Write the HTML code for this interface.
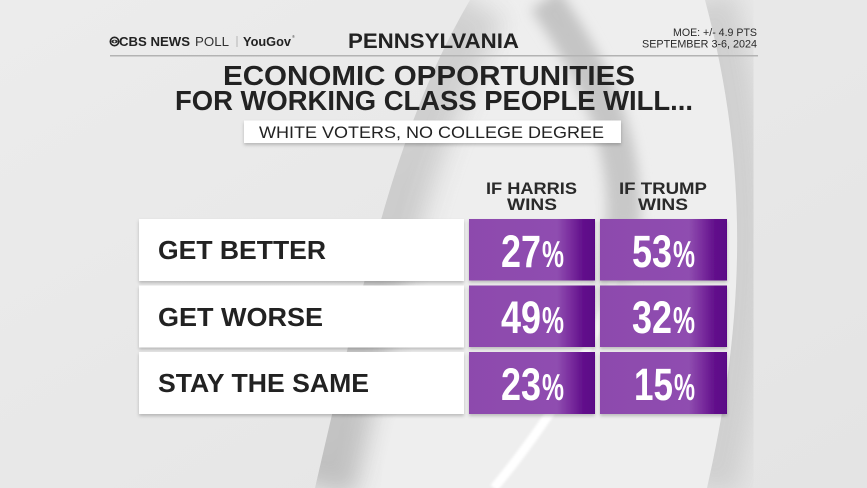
<!DOCTYPE html>
<html>
<head>
<meta charset="utf-8">
<style>
  html, body { margin: 0; padding: 0; background: #e7e7e7; }
  body { width: 867px; height: 488px; overflow: hidden; }
  svg { display: block; }
  text { font-family: "Liberation Sans", Arial, sans-serif; }
  .b { font-weight: bold; }
</style>
</head>
<body>
<svg width="867" height="488" viewBox="0 0 867 488" xmlns="http://www.w3.org/2000/svg">
  <defs>
    <linearGradient id="bg" x1="0" y1="0" x2="1" y2="1">
      <stop offset="0" stop-color="#ececec"/>
      <stop offset="1" stop-color="#e4e4e4"/>
    </linearGradient>
    <linearGradient id="purp" x1="0" y1="0" x2="1" y2="0">
      <stop offset="0" stop-color="#8d4aad"/>
      <stop offset="0.70" stop-color="#8f4db0"/>
      <stop offset="0.80" stop-color="#7b2f9f"/>
      <stop offset="0.90" stop-color="#63118c"/>
      <stop offset="1" stop-color="#5a0686"/>
    </linearGradient>
    <linearGradient id="darkfade" gradientUnits="userSpaceOnUse" x1="0" y1="0" x2="0" y2="488">
      <stop offset="0" stop-color="#c4c4c4" stop-opacity="1"/>
      <stop offset="0.45" stop-color="#c4c4c4" stop-opacity="0.9"/>
      <stop offset="0.65" stop-color="#c4c4c4" stop-opacity="0"/>
    </linearGradient>
    <linearGradient id="whitefade" gradientUnits="userSpaceOnUse" x1="0" y1="0" x2="0" y2="488">
      <stop offset="0.55" stop-color="#ffffff" stop-opacity="0"/>
      <stop offset="0.72" stop-color="#ffffff" stop-opacity="1"/>
      <stop offset="1" stop-color="#ffffff" stop-opacity="1"/>
    </linearGradient>
    <linearGradient id="leftshade" gradientUnits="userSpaceOnUse" x1="0" y1="0" x2="0" y2="488">
      <stop offset="0" stop-color="#d0d0d0"/>
      <stop offset="0.5" stop-color="#cacaca"/>
      <stop offset="1" stop-color="#bdbdbd"/>
    </linearGradient>
    <filter id="blur12" x="-50%" y="-50%" width="200%" height="200%">
      <feGaussianBlur stdDeviation="12"/>
    </filter>
    <filter id="blur6" x="-50%" y="-50%" width="200%" height="200%">
      <feGaussianBlur stdDeviation="6"/>
    </filter>
    <filter id="blur1" x="-50%" y="-50%" width="200%" height="200%">
      <feGaussianBlur stdDeviation="1.2"/>
    </filter>
    <filter id="sh" x="-5%" y="-15%" width="110%" height="140%">
      <feDropShadow dx="0" dy="2" stdDeviation="1.5" flood-color="#000" flood-opacity="0.22"/>
    </filter>
    <clipPath id="cres">
      <path d="M470,0 C400,120 370,250 315,488 L707,488 C750,300 745,150 705,0 Z"/>
    </clipPath>
    <clipPath id="rightR">
      <path d="M705,0 C745,150 750,300 707,488 L867,488 L867,0 Z"/>
    </clipPath>
  </defs>

  <!-- Background -->
  <rect x="0" y="0" width="867" height="488" fill="url(#bg)"/>
  <path d="M470,0 C400,120 370,250 315,488 L707,488 C750,300 745,150 705,0 Z" fill="#eeeeee"/>
  <g clip-path="url(#cres)">
    <path d="M470,0 C400,120 370,250 315,488" fill="none" stroke="url(#leftshade)" stroke-width="80" filter="url(#blur12)" opacity="0.95"/>
  </g>
  <g clip-path="url(#rightR)">
    <path d="M705,0 C745,150 750,300 707,488" fill="none" stroke="#cdcdcd" stroke-width="60" filter="url(#blur12)" opacity="0.9"/>
  </g>
  <path d="M545,0 C650,150 665,280 494,488" fill="none" stroke="url(#darkfade)" stroke-width="34" filter="url(#blur6)"/>
  <path d="M545,0 C650,150 665,280 494,488" fill="none" stroke="url(#whitefade)" stroke-width="9" filter="url(#blur1)"/>

  <!-- Header -->
  <circle cx="114.5" cy="41.5" r="4.2" fill="none" stroke="#222" stroke-width="1.6"/>
  <ellipse cx="114.5" cy="41.5" rx="3.2" ry="1.8" fill="#222"/>
  <circle cx="114.5" cy="41.5" r="1.1" fill="#eee"/>
  <text x="119" y="46" class="b" font-size="13" fill="#222" textLength="71" lengthAdjust="spacingAndGlyphs">CBS NEWS</text>
  <text x="195" y="46" font-size="13" fill="#333" textLength="34" lengthAdjust="spacingAndGlyphs">POLL</text>
  <rect x="236.5" y="36" width="1" height="11" fill="#b5b5b5"/>
  <text x="243" y="46" class="b" font-size="13" fill="#222" textLength="48" lengthAdjust="spacingAndGlyphs">YouGov</text>
  <text x="292" y="38" font-size="4" fill="#444">®</text>

  <text x="348" y="48" class="b" font-size="21" fill="#222" textLength="171" lengthAdjust="spacingAndGlyphs">PENNSYLVANIA</text>

  <text x="673" y="36" font-size="11" fill="#2a2a2a" textLength="84" lengthAdjust="spacingAndGlyphs">MOE: +/- 4.9 PTS</text>
  <text x="642" y="47.5" font-size="11" fill="#2a2a2a" textLength="115" lengthAdjust="spacingAndGlyphs">SEPTEMBER 3-6, 2024</text>

  <rect x="110" y="55" width="648" height="1.5" fill="#b3b3b3"/>

  <!-- Title -->
  <text x="223" y="85" class="b" font-size="28" fill="#222" textLength="412" lengthAdjust="spacingAndGlyphs">ECONOMIC OPPORTUNITIES</text>
  <text x="175" y="110" class="b" font-size="28" fill="#222" textLength="518" lengthAdjust="spacingAndGlyphs">FOR WORKING CLASS PEOPLE WILL...</text>

  <!-- Subtitle box -->
  <rect x="244" y="120.5" width="377" height="22.5" fill="#ffffff" filter="url(#sh)"/>
  <text x="259" y="138" font-size="17" fill="#222" textLength="345" lengthAdjust="spacingAndGlyphs">WHITE VOTERS, NO COLLEGE DEGREE</text>

  <!-- Column headers -->
  <text x="486" y="194" class="b" font-size="17" fill="#2a2a2a" textLength="91" lengthAdjust="spacingAndGlyphs">IF HARRIS</text>
  <text x="507" y="210" class="b" font-size="17" fill="#2a2a2a" textLength="50" lengthAdjust="spacingAndGlyphs">WINS</text>
  <text x="619" y="194" class="b" font-size="17" fill="#2a2a2a" textLength="88" lengthAdjust="spacingAndGlyphs">IF TRUMP</text>
  <text x="638" y="210" class="b" font-size="17" fill="#2a2a2a" textLength="50" lengthAdjust="spacingAndGlyphs">WINS</text>

  <!-- Rows: label boxes -->
  <rect x="139" y="219" width="325" height="62" fill="#ffffff" filter="url(#sh)"/>
  <rect x="139" y="285.5" width="325" height="62" fill="#ffffff" filter="url(#sh)"/>
  <rect x="139" y="352" width="325" height="62" fill="#ffffff" filter="url(#sh)"/>

  <text x="158" y="259" class="b" font-size="26" fill="#222" textLength="168" lengthAdjust="spacingAndGlyphs">GET BETTER</text>
  <text x="158" y="326" class="b" font-size="26" fill="#222" textLength="165" lengthAdjust="spacingAndGlyphs">GET WORSE</text>
  <text x="158" y="392" class="b" font-size="26" fill="#222" textLength="211" lengthAdjust="spacingAndGlyphs">STAY THE SAME</text>

  <!-- Purple boxes -->
  <rect x="469" y="219" width="126" height="61.5" fill="url(#purp)" filter="url(#sh)"/>
  <rect x="600" y="219" width="127" height="61.5" fill="url(#purp)" filter="url(#sh)"/>
  <rect x="469" y="285.5" width="126" height="61.5" fill="url(#purp)" filter="url(#sh)"/>
  <rect x="600" y="285.5" width="127" height="61.5" fill="url(#purp)" filter="url(#sh)"/>
  <rect x="469" y="352" width="126" height="62" fill="url(#purp)" filter="url(#sh)"/>
  <rect x="600" y="352" width="127" height="62" fill="url(#purp)" filter="url(#sh)"/>

  <!-- Values -->
  <g class="b" fill="#ffffff">
    <text x="501" y="267" font-size="45" textLength="40" lengthAdjust="spacingAndGlyphs">27</text>
    <text x="542" y="267" font-size="37" textLength="22" lengthAdjust="spacingAndGlyphs">%</text>
    <text x="632" y="267" font-size="45" textLength="40" lengthAdjust="spacingAndGlyphs">53</text>
    <text x="673" y="267" font-size="37" textLength="22" lengthAdjust="spacingAndGlyphs">%</text>

    <text x="501" y="333" font-size="45" textLength="40" lengthAdjust="spacingAndGlyphs">49</text>
    <text x="542" y="333" font-size="37" textLength="22" lengthAdjust="spacingAndGlyphs">%</text>
    <text x="632" y="333" font-size="45" textLength="40" lengthAdjust="spacingAndGlyphs">32</text>
    <text x="673" y="333" font-size="37" textLength="22" lengthAdjust="spacingAndGlyphs">%</text>

    <text x="501" y="400" font-size="45" textLength="40" lengthAdjust="spacingAndGlyphs">23</text>
    <text x="542" y="400" font-size="37" textLength="22" lengthAdjust="spacingAndGlyphs">%</text>
    <text x="634" y="400" font-size="45" textLength="39" lengthAdjust="spacingAndGlyphs">15</text>
    <text x="674" y="400" font-size="37" textLength="21" lengthAdjust="spacingAndGlyphs">%</text>
  </g>
</svg>
</body>
</html>
